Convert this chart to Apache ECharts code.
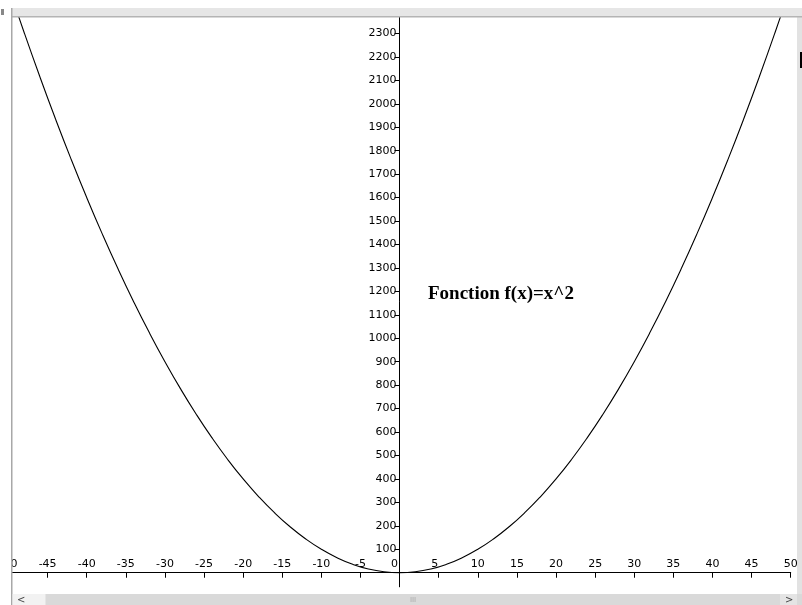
<!DOCTYPE html>
<html>
<head>
<meta charset="utf-8">
<script src="https://cdn.jsdelivr.net/npm/echarts@6/dist/echarts.min.js"></script>
<style>
html,body{margin:0;padding:0;background:#fff;}
#c{width:802px;height:605px;}
</style>
</head>
<body>
<div id="c"></div>
<script>
var xValues = [-50,-48,-46,-44,-42,-40,-38,-36,-34,-32,-30,-28,-26,-24,-22,-20,-18,-16,-14,-12,-10,-8,-6,-4,-2,0,2,4,6,8,10,12,14,16,18,20,22,24,26,28,30,32,34,36,38,40,42,44,46,48,50];
var yValues = [2500,2304,2116,1936,1764,1600,1444,1296,1156,1024,900,784,676,576,484,400,324,256,196,144,100,64,36,16,4,0,4,16,36,64,100,144,196,256,324,400,484,576,676,784,900,1024,1156,1296,1444,1600,1764,1936,2116,2304,2500];
var xTicks = [-50,-45,-40,-35,-30,-25,-20,-15,-10,-5,0,5,10,15,20,25,30,35,40,45,50];
var yTicks = [100,200,300,400,500,600,700,800,900,1000,1100,1200,1300,1400,1500,1600,1700,1800,1900,2000,2100,2200,2300];
var titleText = 'Fonction f(x)=x^2';

var points = xValues.map(function(x, i){ return [x, yValues[i]]; });

var W = 802, H = 605;
var gridLeft = 8.5, gridRight = 11.3, gridTop = 17, gridBottom = 18.2;
var xMin = -50, xMax = 50, yMin = -60, yMax = 2370;
var plotW = W - gridLeft - gridRight, plotH = H - gridTop - gridBottom;
// shift axes so they cross at the origin
var yAxisOffset = -((0 - xMin) / (xMax - xMin) * plotW);
var xAxisOffset = -((0 - yMin) / (yMax - yMin) * plotH);

var chart = echarts.init(document.getElementById('c'), null, {renderer:'canvas'});
var labelFont = {color:'#000', fontSize:11, fontFamily:'DejaVu Sans'};
chart.setOption({
  animation:false,
  backgroundColor:'#fff',
  grid:{left:gridLeft, right:gridRight, top:gridTop, bottom:gridBottom, containLabel:false, outerBoundsMode:'none'},
  xAxis:{
    type:'value', min:xMin, max:xMax, position:'bottom', offset:xAxisOffset,
    axisLine:{onZero:false, lineStyle:{color:'#000', width:1}},
    axisTick:{show:true, inside:false, length:5, customValues:xTicks, lineStyle:{color:'#000'}},
    axisLabel:Object.assign({inside:true, margin:3, customValues:xTicks, showMinLabel:true, showMaxLabel:true, hideOverlap:false,
      formatter:function(v){
        if (v === 0) return '{l|0}';
        if (v === 5) return '{m|5}';
        return String(v);
      },
      rich:{
        l:{fontSize:11, fontFamily:'DejaVu Sans', color:'#000', padding:[0,10,0,0]},
        m:{fontSize:11, fontFamily:'DejaVu Sans', color:'#000', padding:[0,8,0,0]}
      }
    }, labelFont),
    splitLine:{show:false}
  },
  yAxis:{
    type:'value', min:yMin, max:yMax, position:'left', offset:yAxisOffset,
    axisLine:{onZero:false, lineStyle:{color:'#000', width:1}},
    axisTick:{show:true, inside:false, length:5, customValues:yTicks, lineStyle:{color:'#000'}},
    axisLabel:Object.assign({margin:3, customValues:yTicks, hideOverlap:false, formatter:function(v){ return String(v); }}, labelFont),
    splitLine:{show:false}
  },
  series:[{
    type:'line', data:points, smooth:true, showSymbol:false, clip:true,
    lineStyle:{color:'#000', width:1.1}
  }],
  graphic:[
    {type:'text', z:50, style:{text:titleText, x:428, y:294, verticalAlign:'middle', fill:'#000', font:'bold 19px "Liberation Serif"'}},
    // window frame decorations
    {type:'rect', z:100, shape:{x:0,y:0,width:802,height:8}, style:{fill:'#fff'}},
    {type:'rect', z:100, shape:{x:0,y:8,width:802,height:9}, style:{fill:'#e6e6e6'}},
    {type:'rect', z:101, shape:{x:11,y:16,width:791,height:1.5}, style:{fill:'#b4b4b4'}},
    {type:'rect', z:100, shape:{x:0,y:8,width:11,height:597}, style:{fill:'#fff'}},
    {type:'rect', z:101, shape:{x:11,y:8,width:1.5,height:597}, style:{fill:'#a8a8a8'}},
    {type:'rect', z:100, shape:{x:12.5,y:594,width:790,height:11}, style:{fill:'#d9d9d9'}},
    {type:'rect', z:101, shape:{x:12.5,y:594,width:33,height:11}, style:{fill:'#f2f2f2'}},
    {type:'rect', z:101, shape:{x:780,y:594,width:17,height:11}, style:{fill:'#e4e4e4'}},
    {type:'text', z:102, style:{text:'<', x:17, y:600, verticalAlign:'middle', fill:'#444', font:'10px "DejaVu Sans"'}},
    {type:'text', z:102, style:{text:'>', x:785, y:600, verticalAlign:'middle', fill:'#444', font:'10px "DejaVu Sans"'}},
    {type:'text', z:102, style:{text:'III', x:413, y:600, align:'center', verticalAlign:'middle', fill:'#aaa', font:'7px "DejaVu Sans"'}},
    {type:'rect', z:100, shape:{x:797,y:17,width:5,height:577}, style:{fill:'#e2e2e2'}},
    {type:'rect', z:101, shape:{x:800,y:52,width:2,height:16}, style:{fill:'#000'}},
    {type:'rect', z:101, shape:{x:1,y:9,width:3,height:6}, style:{fill:'#888'}}
  ]
});
</script>
</body>
</html>
